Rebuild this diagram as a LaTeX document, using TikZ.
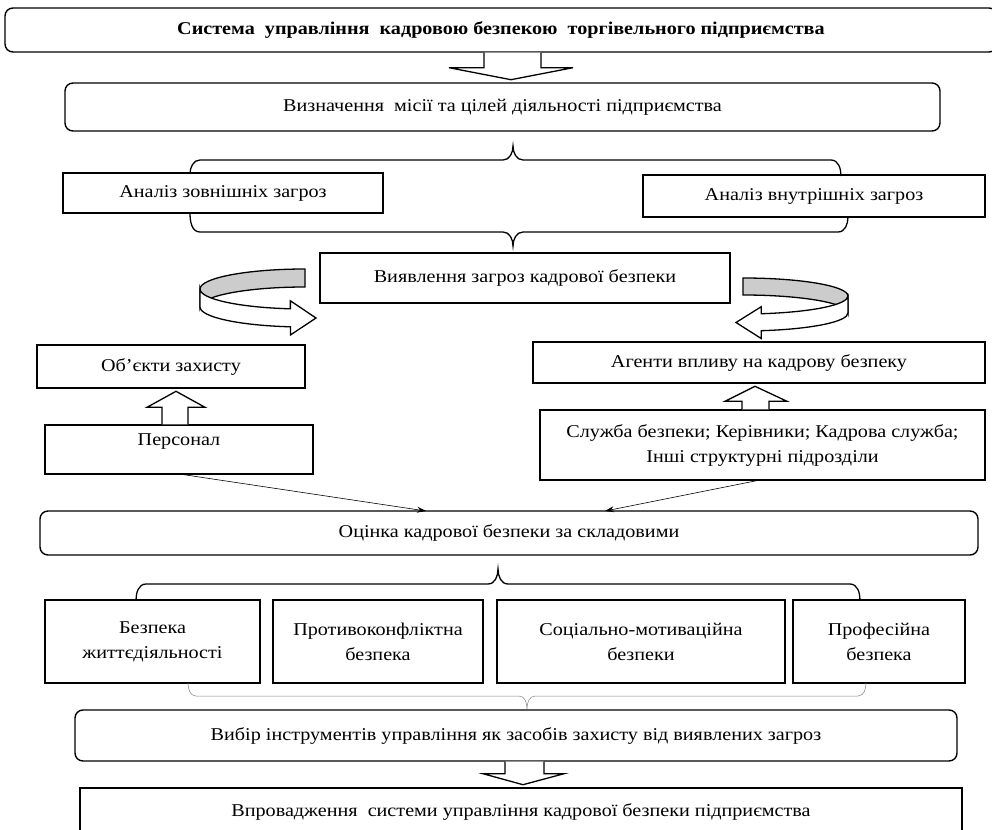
\documentclass[tikz,border=0pt]{standalone}
\usepackage{fontspec}
\setmainfont{Liberation Serif}[FakeStretch=1.12]
\usetikzlibrary{arrows.meta}

\tikzset{
  box/.style={draw, line width=1.4pt, align=center, inner sep=2pt},
  rbox/.style={box, rounded corners=8pt},
  barrow/.style={draw, fill=white, line width=1.3pt},
  brace/.style={draw, line width=1.3pt},
  band/.style={draw=black, fill=gray!40, line width=1.3pt},
  thinarrow/.style={-{Stealth[length=9pt,width=6pt]}, line width=0.6pt},
}

\begin{document}
\begin{tikzpicture}[x=1pt, y=1pt, every node/.style={font=\fontsize{18}{25}\selectfont}]
\useasboundingbox (0,0) rectangle (992,-829);

% Top block
\node[rbox, minimum width=992, minimum height=44, font=\fontsize{18}{25}\selectfont\bfseries] (title) at (501,-30) {Система\ \ управління\ \ кадровою безпекою\ \ торгівельного підприємства};
\draw[barrow] ([xshift=-17pt]title.south) -- ++(0,-15) -- ++(-35,0) -- ++(62,-12) -- ++(62,12) -- ++(-32,0) -- ++(0,15);
\node[rbox, minimum width=875, minimum height=48] (misia) at (502.5,-107) {Визначення\ \ місії та цілей діяльності підприємства};

% Threat analysis
\draw[brace] (190,-174) to[out=90,in=180] (200,-160) -- (503,-160) to[out=0,in=-90] (513,-146) to[out=-90,in=180] (523,-160) -- (831,-160) to[out=0,in=90] (841,-176);
\node[box, minimum width=320, minimum height=40] (zovn) at (223,-193) {Аналіз зовнішніх загроз};
\node[box, minimum width=342, minimum height=42] (vnut) at (814,-196) {Аналіз внутрішніх загроз};
\draw[brace] (190,-213) to[out=-90,in=180] (200,-232) -- (503,-232) to[out=0,in=90] (513,-246) to[out=90,in=180] (523,-232) -- (838,-232) to[out=0,in=-90] (848,-217);
\node[box, minimum width=410, minimum height=50] (vyav) at (525,-278) {Виявлення загроз кадрової безпеки};

% Curved arrows
\draw[band] (305,-269) arc[start angle=90, end angle=180, x radius=105, y radius=20] -- (200,-307) arc[start angle=180, end angle=90, x radius=105, y radius=20] -- cycle;
\draw[barrow] (200,-289) arc[start angle=180, end angle=262, x radius=105, y radius=20] -- ++(0,8) -- (316,-318) -- (290.4,-335) -- (290.4,-326.8) arc[start angle=262, end angle=180, x radius=105, y radius=20] -- cycle;
\draw[band] (743,-278) arc[start angle=90, end angle=0, x radius=105, y radius=18] -- (848,-313) arc[start angle=0, end angle=90, x radius=105, y radius=18] -- cycle;
\draw[barrow] (848,-296) arc[start angle=0, end angle=-80, x radius=105, y radius=18] -- ++(0,7) -- (736,-322.5) -- (761.2,-338.5) -- (761.2,-330.7) arc[start angle=-80, end angle=0, x radius=105, y radius=18] -- cycle;

% Objects and agents
\node[box, minimum width=268, minimum height=43] (obj) at (171,-366.5) {Об’єкти захисту};
\node[box, minimum width=452, minimum height=41] (agent) at (759,-362.5) {Агенти впливу на кадрову безпеку};
\node[box, minimum width=268, minimum height=49, text depth=20pt] (pers) at (179,-449.5) {Персонал};
\draw[barrow] ([xshift=-17pt]pers.north) -- ++(0,17) -- ++(-15,0) -- ++(29,16) -- ++(29,-16) -- ++(-17,0) -- ++(0,-17);
\node[box, minimum width=445, minimum height=70] (sluzh) at (762.5,-445) {Служба безпеки; Керівники; Кадрова служба;\\Інші структурні підрозділи};
\draw[barrow] ([xshift=-20.5pt]sluzh.north) -- ++(0,8) -- ++(-17,0) -- ++(30,15) -- ++(32,-15) -- ++(-18,0) -- ++(0,-8);

% Assessment
\node[rbox, minimum width=938, minimum height=44] (ocin) at (509,-533) {Оцінка кадрової безпеки за складовими};
\coordinate (ocinL) at (426,-511);
\coordinate (ocinR) at (605,-511);
\draw[thinarrow] ([xshift=5pt]pers.south) -- (ocinL);
\draw[thinarrow] ([xshift=-6pt]sluzh.south) -- (ocinR);

\draw[brace] (136,-600) to[out=90,in=180] (146,-584) -- (488,-584) to[out=0,in=-90] (498,-569) to[out=-90,in=180] (508,-584) -- (850,-584) to[out=0,in=90] (860,-600);
\node[box, minimum width=215, minimum height=83] (bzh) at (152.5,-641.5) {Безпека\\життєдіяльності};
\node[box, minimum width=210, minimum height=83] (prot) at (378,-641.5) {Противоконфліктна\\безпека};
\node[box, minimum width=288, minimum height=83] (soc) at (641,-641.5) {Соціально-мотиваційна\\безпеки};
\node[box, minimum width=172, minimum height=83] (prof) at (879,-641.5) {Професійна\\безпека};
\draw[line width=0.5pt, gray] (188,-683) to[out=-90,in=180] (196,-696) -- (519,-696) to[out=0,in=90] (527,-709) to[out=90,in=180] (535,-696) -- (858,-696) to[out=0,in=-90] (866,-683);

% Tools and implementation
\node[rbox, minimum width=882, minimum height=51] (vybir) at (516,-735.5) {Вибір інструментів управління як засобів захисту від виявлених загроз};
\draw[barrow] ([xshift=-11pt]vybir.south) -- ++(0,-12) -- ++(-22,0) -- ++(40,-11) -- ++(41,11) -- ++(-20,0) -- ++(0,12);
\node[box, minimum width=882, minimum height=48] (vprov) at (521,-812) {Впровадження\ \ системи управління кадрової безпеки підприємства};
\end{tikzpicture}
\end{document}
